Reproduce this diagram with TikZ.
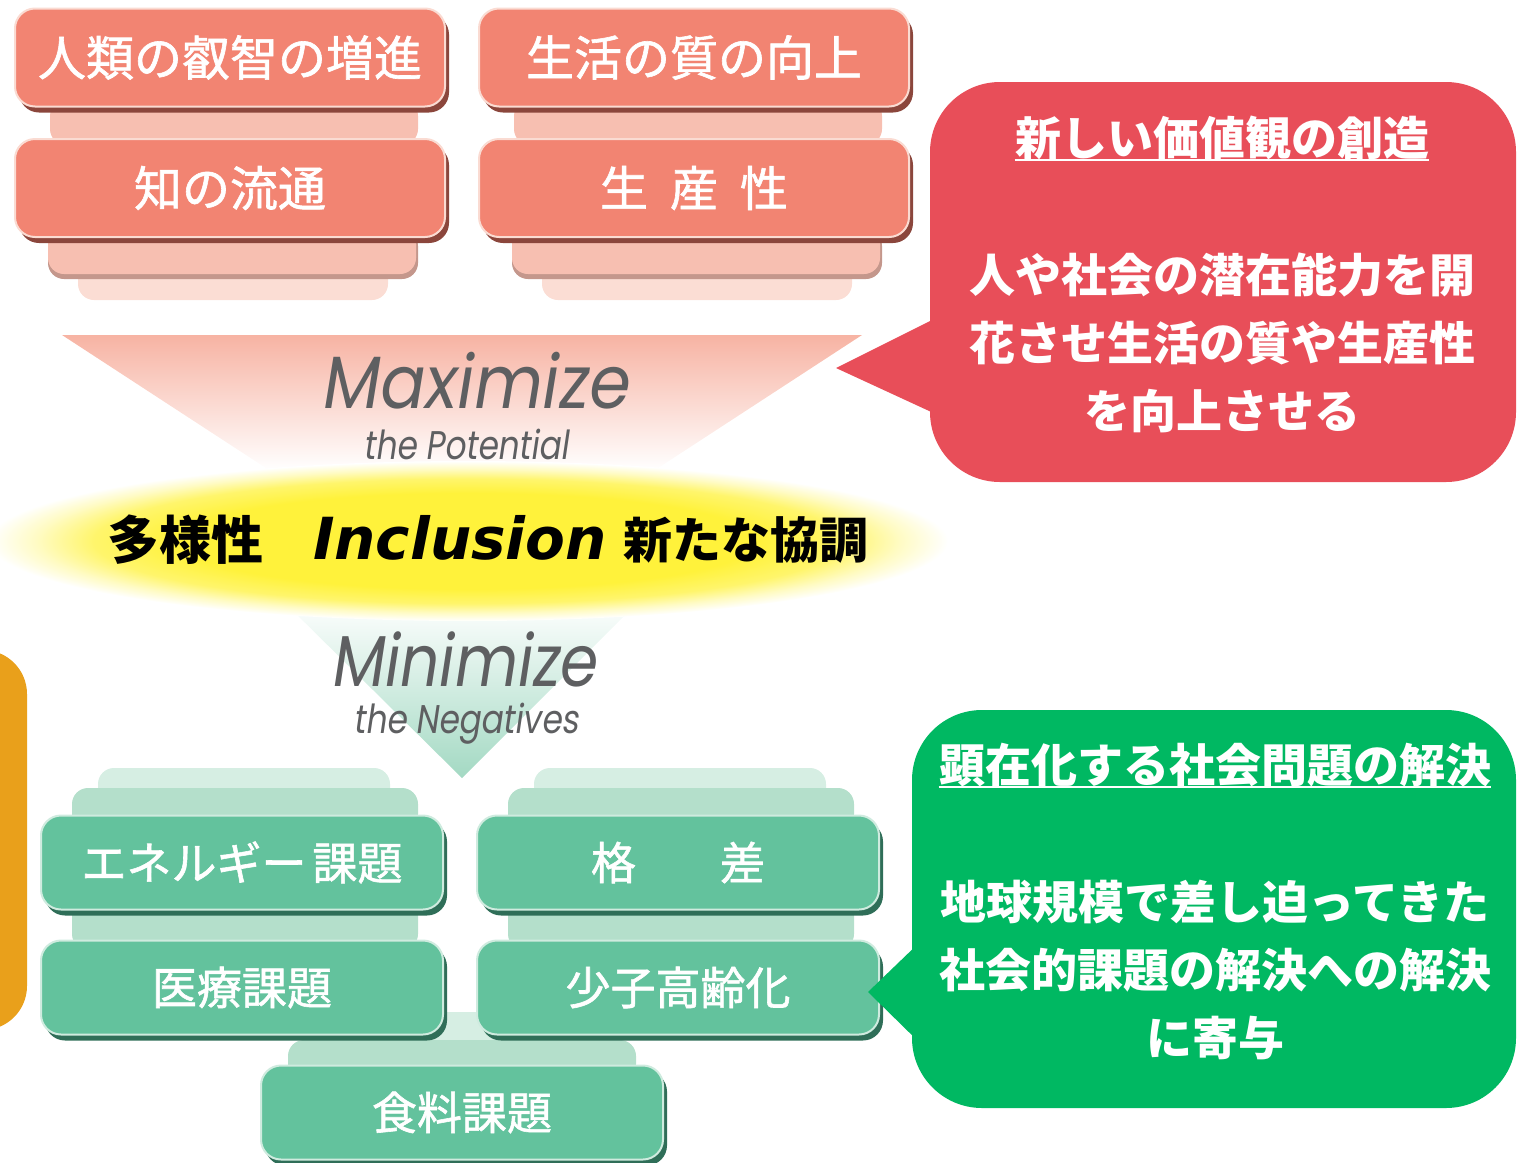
\documentclass[tikz,border=0pt]{standalone}
\usepackage{fontspec}
\usepackage{graphicx}
\usetikzlibrary{shadows,calc}
\newfontfamily\jp{Noto Sans CJK JP}
\newfontfamily\jpm{Noto Sans CJK JP}[FakeBold=1.3]
\newfontfamily\geo{Poppins}[FakeSlant=0.18]
\newfontfamily\incl{DejaVu Sans}
\definecolor{pinkmain}{HTML}{F28472}
\definecolor{pinkdark}{HTML}{8B463C}
\definecolor{pinklight}{HTML}{FADBD2}
\definecolor{pinklayer}{HTML}{F7BFB1}
\definecolor{pinklayertwo}{HTML}{FBDDD4}
\definecolor{pinkline}{HTML}{C4978C}
\definecolor{pinktri}{HTML}{F7B3A3}
\definecolor{greenmain}{HTML}{63C29D}
\definecolor{greendark}{HTML}{2F6E58}
\definecolor{greenlight}{HTML}{CFEBDF}
\definecolor{greenlayer}{HTML}{B4DFCB}
\definecolor{greenlayertwo}{HTML}{D6EEE3}
\definecolor{greentri}{HTML}{A3D9C3}
\definecolor{redcall}{HTML}{E84E59}
\definecolor{greencall}{HTML}{00B862}
\definecolor{orangebar}{HTML}{E9A01B}
\definecolor{yellowc}{HTML}{FFF23B}
\definecolor{graytext}{HTML}{5E5F61}
\pgfdeclareradialshading{inclshade}{\pgfpoint{0bp}{0bp}}{color(0bp)=(yellowc); color(15bp)=(yellowc); color(19.5bp)=(yellowc!75); color(22.5bp)=(yellowc!30); color(25bp)=(white); color(50bp)=(white)}
\tikzset{
  pinkbox/.style={rounded corners=10pt, fill=pinkmain, draw=pinklight, line width=1pt,
    minimum width=215pt, minimum height=49pt, inner sep=0pt, text=white,
    font=\jpm\fontsize{24}{28}\selectfont,
    general shadow={fill=pinkdark, shadow xshift=2pt, shadow yshift=-3pt}},
  greenbox/.style={rounded corners=10pt, fill=greenmain, draw=greenlight, line width=1pt,
    minimum width=201pt, minimum height=47pt, inner sep=0pt, text=white,
    font=\jpm\fontsize{22.5}{26}\selectfont,
    general shadow={fill=greendark, shadow xshift=2pt, shadow yshift=-3pt}},
  layer/.style={rounded corners=8pt},
  callbox/.style={rounded corners=35pt, inner sep=0pt},
  calltext/.style={text=white, inner sep=0pt, align=center,
    font=\jp\bfseries\fontsize{23}{34}\selectfont},
  maxtext/.style={text=graytext, inner sep=0pt},
  incltext/.style={text=black, inner sep=0pt},
}
\begin{document}
\begin{tikzpicture}[x=0.5pt,y=-0.5pt]
\useasboundingbox (0,0) rectangle (1526,1162);

% ---------- pink funnel ----------
\shade[top color=pinktri, bottom color=white]
  (62,335) -- (862,335) -- (655,470) -- (269,470) -- cycle;
% ---------- green funnel ----------
\shade[top color=white, bottom color=greentri]
  (282,600) -- (640,600) -- (462,778) -- cycle;

% ---------- Inclusion ellipse ----------
\shade[shading=inclshade] (468,541) ellipse [x radius=240pt, y radius=40pt];

% ---------- pink stacks ----------
\foreach \dx in {0,464}{
  \fill[pinklayertwo, layer] (78+\dx,262) rectangle (388+\dx,300);
  \fill[pinkline, layer] (48+\dx,230) rectangle (418+\dx,279);
  \fill[pinklayer, layer] (48+\dx,228) rectangle (416+\dx,274);
  \fill[pinklayer, layer] (50+\dx,100) rectangle (418+\dx,145);
}
\node[pinkbox] (p1) at (230,57.5) {人類の叡智の増進};
\node[pinkbox] (p2) at (230,188) {知の流通};
\node[pinkbox] (p3) at (694,57.5) {生活の質の向上};
\node[pinkbox] (p4) at (694,188) {生\hspace{11pt}産\hspace{11pt}性};

% ---------- Maximize / Minimize ----------
\node[maxtext, font=\geo\fontsize{37}{37}\selectfont] (mx) at (474,381) {\scalebox{0.9}[1]{Maximize}};
\node[maxtext, font=\geo\fontsize{20}{20}\selectfont] (mxs) at (466,444) {\scalebox{0.82}[1]{the Potential}};
\node[maxtext, font=\geo\fontsize{36}{36}\selectfont] (mn) at (463,659) {\scalebox{0.85}[1]{Minimize}};
\node[maxtext, font=\geo\fontsize{20}{20}\selectfont] (mns) at (466,724) {\scalebox{0.82}[1]{the Negatives}};

% ---------- Inclusion text ----------
\node[incltext, font=\jp\bfseries\fontsize{26}{26}\selectfont] (dv) at (185,540) {多様性};
\node[incltext, font=\incl\bfseries\itshape\fontsize{29}{29}\selectfont] (in) at (460,538) {Inclusion};
\node[incltext, font=\jp\bfseries\fontsize{24.5}{26}\selectfont] (nc) at (746,540) {新たな協調};

% ---------- green stacks ----------
\foreach \dx in {0,436}{
  \fill[greenlayertwo, layer] (98+\dx,768) rectangle (390+\dx,805);
  \fill[greenlayer, layer] (72+\dx,788) rectangle (418+\dx,830);
  \fill[greenlayer, layer] (72+\dx,900) rectangle (418+\dx,950);
}
\fill[greenlayertwo, layer] (320,1012) rectangle (604,1045);
\fill[greenlayer, layer] (288,1040) rectangle (636,1080);
\node[greenbox] (g1) at (242,862.5) {エネルギー\hspace{3pt}課題};
\node[greenbox] (g2) at (242,987.5) {医療課題};
\node[greenbox] (g3) at (678,862.5) {格\hspace{42pt}差};
\node[greenbox] (g4) at (678,987.5) {少子高齢化};
\node[greenbox] (g5) at (462,1112.5) {食料課題};

% ---------- orange bar ----------
\fill[orangebar, rounded corners=22pt] (-80,650) rectangle (27,1030);

% ---------- red callout ----------
\node[callbox, fill=redcall, minimum width=293pt, minimum height=200pt] (rc) at (1223,282) {};
\fill[redcall] (940,316) -- (836,368) -- (940,416) -- cycle;
\node[calltext] (rt) at (1222,138) {新しい価値観の創造};
\draw[white, line width=1.1pt] ([yshift=-11pt]rt.west) -- ([yshift=-11pt]rt.east);
\node[calltext] (rb) at (1222,343) {人や社会の潜在能力を開\\花させ生活の質や生産性\\を向上させる};

% ---------- green callout ----------
\node[callbox, fill=greencall, minimum width=302pt, minimum height=199pt] (gc) at (1214,909) {};
\fill[greencall] (922,940) -- (868,992) -- (922,1045) -- cycle;
\node[calltext] (gt) at (1215,765) {顕在化する社会問題の解決};
\draw[white, line width=1.1pt] ([yshift=-11pt]gt.west) -- ([yshift=-11pt]gt.east);
\node[calltext] (gb) at (1215,970) {地球規模で差し迫ってきた\\社会的課題の解決への解決\\に寄与};
\end{tikzpicture}
\end{document}
